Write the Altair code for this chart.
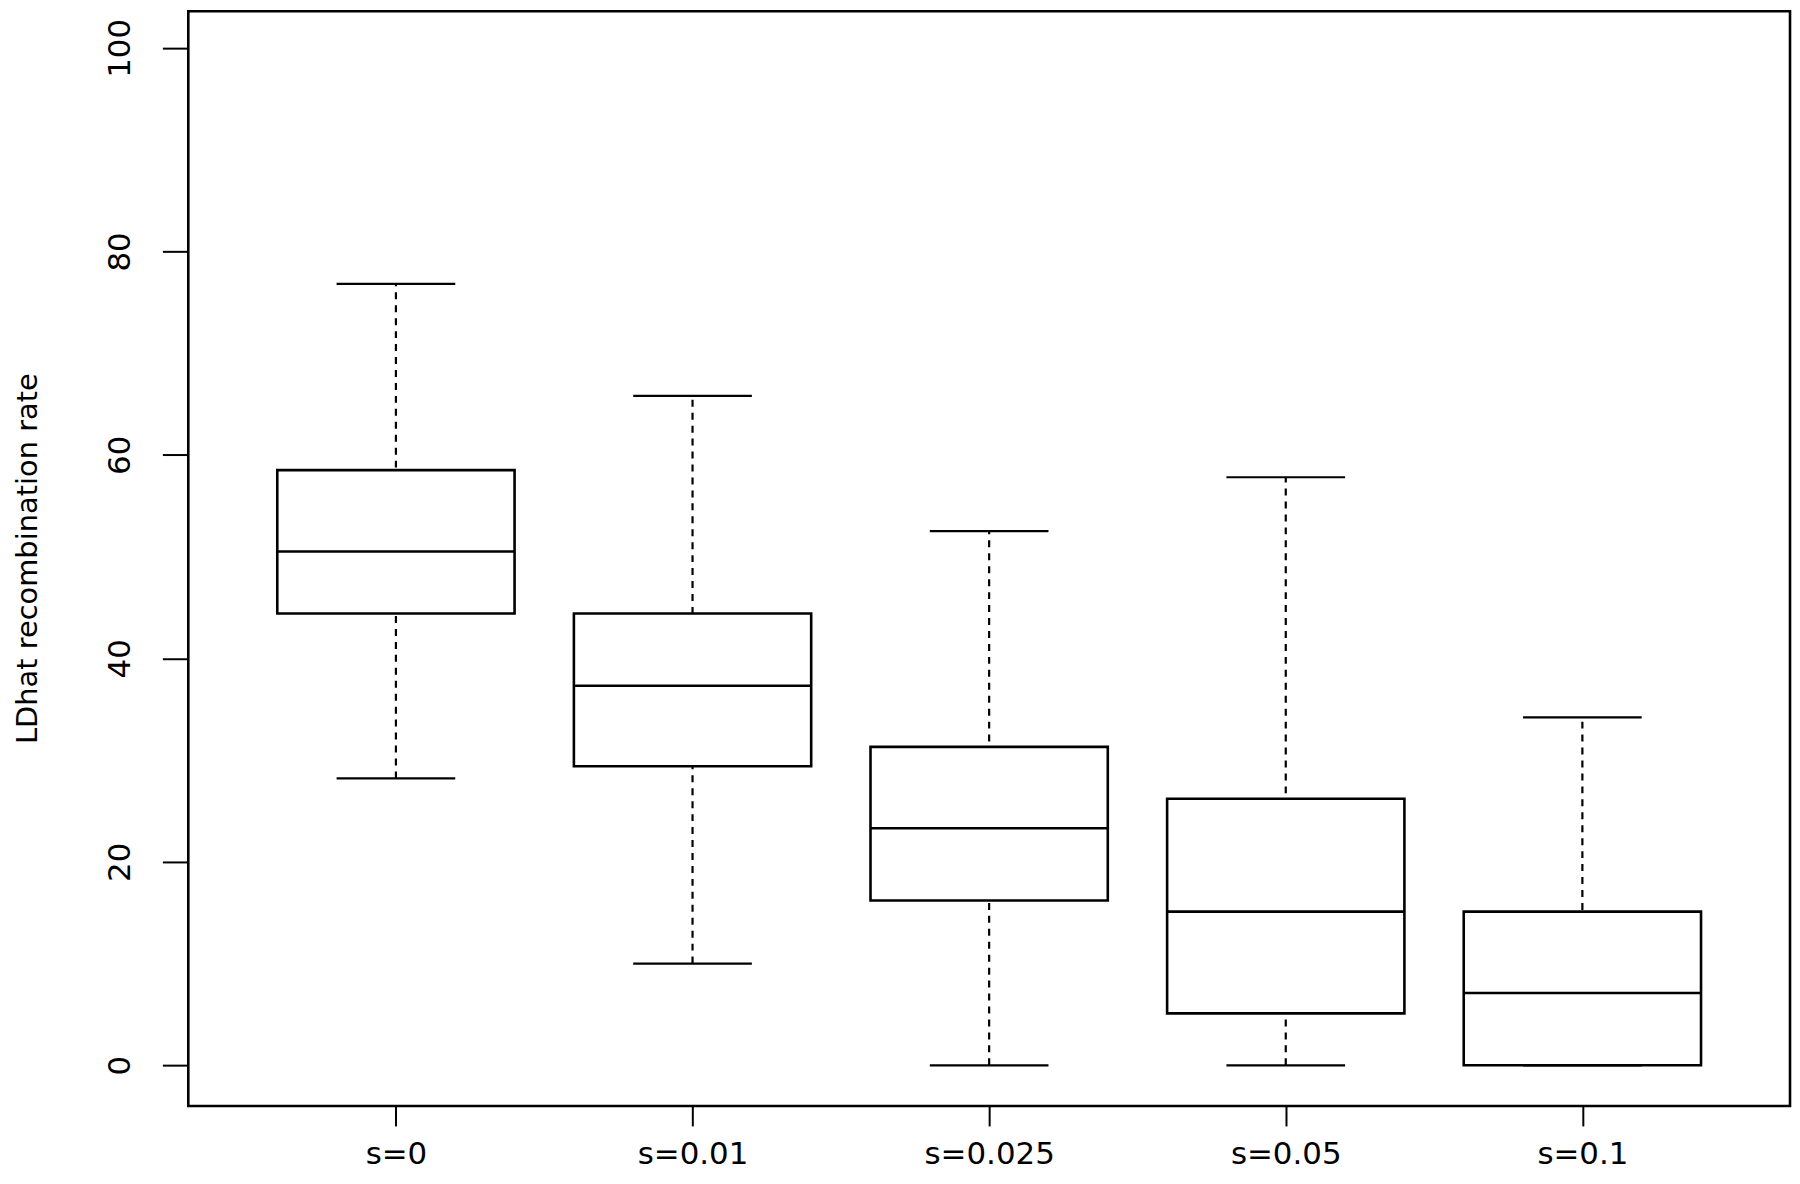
import altair as alt
import pandas as pd

categories = ["s=0", "s=0.01", "s=0.025", "s=0.05", "s=0.1"]
lower_whisker = [28.2, 10.0, 0.0, 0.0, 0.0]
q1 = [44.4, 29.4, 16.2, 5.1, 0.0]
median = [50.5, 37.3, 23.3, 15.1, 7.1]
q3 = [58.5, 44.4, 31.3, 26.2, 15.1]
upper_whisker = [76.8, 65.8, 52.5, 57.8, 34.2]
y_ticks = [0, 20, 40, 60, 80, 100]

df = pd.DataFrame({
    "cat": categories,
    "pos": list(range(1, len(categories) + 1)),
    "lo": lower_whisker,
    "q1": q1,
    "med": median,
    "q3": q3,
    "hi": upper_whisker,
})

FONT = "DejaVu Sans"
label_js = "[" + ",".join("'" + c + "'" for c in categories) + "][datum.value - 1]"

xscale = alt.Scale(domain=[0.3, 5.7], nice=False, zero=False)
yscale = alt.Scale(domain=[-4.0, 103.6], nice=False, zero=False)

xaxis = alt.Axis(values=[1, 2, 3, 4, 5], labelExpr=label_js, title=None, grid=False,
                 domain=False, tickSize=20, tickWidth=2, tickColor="black",
                 labelFontSize=31, labelFont=FONT, labelColor="black",
                 labelPadding=38, labelBaseline="alphabetic", labelAlign="center")
yaxis = alt.Axis(values=y_ticks, title="LDhat recombination rate", grid=False,
                 domain=False, tickSize=26, tickWidth=2, tickColor="black",
                 labelFontSize=31, labelFont=FONT, labelColor="black",
                 labelAngle=270, labelAlign="center", labelBaseline="bottom",
                 labelPadding=26,
                 titleFont=FONT, titleFontSize=29, titleFontWeight="normal",
                 titleColor="black", titleAngle=270, titleAlign="center",
                 titleBaseline="middle", titleX=-161, titleY=549)

base = alt.Chart(df).transform_calculate(
    xl="datum.pos - 0.4", xr="datum.pos + 0.4",
    cl="datum.pos - 0.2", cr="datum.pos + 0.2",
)

whisker = base.mark_rule(color="black", strokeWidth=2.2, strokeDash=[7, 6]).encode(
    x=alt.X("pos:Q", scale=xscale, axis=xaxis),
    y=alt.Y("lo:Q", scale=yscale, axis=yaxis),
    y2="hi:Q",
)

box = base.mark_rect(fill="white", stroke="black", strokeWidth=2.6).encode(
    x=alt.X("xl:Q", scale=xscale),
    x2="xr:Q",
    y=alt.Y("q1:Q", scale=yscale),
    y2="q3:Q",
)

med = base.mark_rule(color="black", strokeWidth=2.6).encode(
    x=alt.X("xl:Q", scale=xscale),
    x2="xr:Q",
    y=alt.Y("med:Q", scale=yscale),
)

cap_hi = base.mark_rule(color="black", strokeWidth=2.2).encode(
    x=alt.X("cl:Q", scale=xscale),
    x2="cr:Q",
    y=alt.Y("hi:Q", scale=yscale),
)

cap_lo = base.mark_rule(color="black", strokeWidth=2.2).encode(
    x=alt.X("cl:Q", scale=xscale),
    x2="cr:Q",
    y=alt.Y("lo:Q", scale=yscale),
)

chart = alt.layer(whisker, box, med, cap_hi, cap_lo).properties(
    width=1608,
    height=1099,
    autosize=alt.AutoSizeParams(type="none"),
    padding={"left": 181, "top": 1, "right": 2, "bottom": 68},
    background="white",
).configure_view(stroke="black", strokeWidth=2.6)

chart.save("out.html", embed_options={"renderer": "svg", "actions": False})
